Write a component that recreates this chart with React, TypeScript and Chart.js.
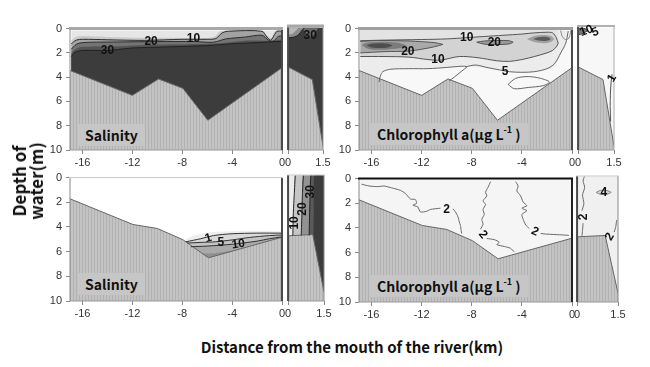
import React, { useEffect, useRef } from 'react';
import { Chart, registerables } from 'chart.js';
Chart.register(...registerables);

// ---------- axes ----------
const X_MAIN = [-17, 0];
const X_NARROW = [0, 1.5];
const X_TICKS_MAIN = [-16, -12, -8, -4, 0];
const X_TICKS_NARROW = [0, 1.5];
const DEPTH_RANGE = [0, 10];
const Y_TICKS = [0, 2, 4, 6, 8, 10];
const SURF_TOP = 0.15;
const SURF_BOT = 0.03;

// ---------- bathymetry [distance km, depth m] ----------
const TOP_BATHY = [[-17, 3.45], [-12, 5.5], [-9.9, 4.15], [-7.95, 4.92], [-5.95, 7.55], [0, 3.22]];
const TOP_BATHY_N = [[0, 3.3], [1.04, 4.32], [1.5, 9.7]];
const BOT_BATHY = [[-17, 1.72], [-11.95, 3.8], [-10, 4.12], [-7.95, 5.03], [-5.9, 6.5], [0, 4.83]];
const BOT_BATHY_N = [[0, 4.83], [1.03, 4.72], [1.5, 9.3]];

// ---------- salinity, upper section (isolines: depth by distance) ----------
const SAL_TOP_5 = [[-16.9, 0.95], [-16.4, 0.65], [-15, 0.65], [-12, 0.75], [-9, 0.75], [-6.2, 0.78], [-5.4, 0.65], [-4.9, 0.2], [-1.7, 0.2], [-1.25, 0.55], [-0.85, 0.75], [-0.55, 0.2], [0, 0.18]];
const SAL_TOP_10 = [[-16.9, 1.25], [-16.5, 0.95], [-16, 0.88], [-14, 0.92], [-11, 0.97], [-8, 0.88], [-6, 0.88], [-5.3, 0.82], [-4.8, 0.35], [-4.3, 0.22], [-1.6, 0.22], [-1.2, 0.7], [-0.9, 0.95], [-0.6, 0.5], [-0.4, 0.22], [0, 0.22]];
const SAL_TOP_20 = [[-16.9, 1.7], [-16.5, 1.3], [-16, 1.15], [-13, 1.1], [-10, 1.07], [-7, 1.07], [-5.5, 1.12], [-4.5, 0.85], [-3, 0.7], [-1.6, 0.55], [-1.1, 0.95], [-0.7, 1.05], [-0.3, 0.65], [0, 0.6]];
const SAL_TOP_25 = [[-16.9, 2.0], [-16.5, 1.65], [-16, 1.5], [-13, 1.45], [-10, 1.32], [-7, 1.27], [-5, 1.2], [-3, 1.0], [-1, 1.0], [0, 0.9]];
const SAL_TOP_30 = [[-16.9, 2.3], [-16.6, 1.95], [-16, 1.8], [-14, 1.8], [-12, 1.6], [-9, 1.5], [-6, 1.4], [-4, 1.25], [-2, 1.15], [0, 1.05]];
const SAL_TOP_N_OUT = [[0, 0.95], [0.25, 0.9], [0.45, 0.7], [0.6, 0.35], [0.7, 0.15]];
const SAL_TOP_N_IN = [[0, 0.7], [0.2, 0.6], [0.35, 0.35], [0.45, 0.15]];
const SAL_TOP_N_MID = [[0.6, 0.15], [0.75, 0.55], [0.95, 0.9], [1.15, 0.6], [1.3, 0.15]];

// ---------- chlorophyll, upper section ----------
const CHL_TOP_5_FILL = [[-16.9, 3.45], [-15.6, 4.1], [-15.2, 3.55], [-14, 3.3], [-12, 3.3], [-10, 3.2], [-8.5, 3.1], [-7, 3.25], [-5.3, 3.5], [-3.2, 3.6], [-1.6, 3.25], [-0.9, 2.2], [-0.5, 1.2], [-0.3, 0.15]];
const CHL_TOP_10_UP = [[-16.9, 1.0], [-15, 0.95], [-12, 0.9], [-10, 0.85], [-8.5, 0.75], [-7, 0.65], [-5.5, 0.55], [-4, 0.45], [-3, 0.35], [-2, 0.3], [-1.55, 0.35], [-1.25, 0.75], [-1.1, 1.2]];
const CHL_TOP_10_LOW = [[-16.9, 2.3], [-15, 2.3], [-13, 2.35], [-11.5, 2.55], [-10.5, 2.6], [-9, 2.3], [-7.5, 2.4], [-6, 2.65], [-5, 2.7], [-4, 2.55], [-3, 2.3], [-2, 2.0], [-1.55, 1.8], [-1.25, 1.5], [-1.1, 1.2]];
const CHL_TOP_20A_TOP = [[-16.9, 1.05], [-16, 1.0], [-15, 0.98], [-14, 1.0], [-13, 1.02], [-12, 1.08], [-11, 1.15], [-10.3, 1.3]];
const CHL_TOP_20A_BOT = [[-16.9, 2.0], [-16, 1.95], [-15, 1.9], [-14, 1.88], [-13, 1.85], [-12, 1.7], [-11, 1.5], [-10.3, 1.3]];
const CHL_TOP_MID_TOP = [[-16.8, 1.35], [-16.3, 1.15], [-15.5, 1.1], [-14.5, 1.1], [-13.7, 1.2], [-13.2, 1.4]];
const CHL_TOP_MID_BOT = [[-16.8, 1.35], [-16.3, 1.65], [-15.5, 1.75], [-14.5, 1.7], [-13.7, 1.6], [-13.2, 1.4]];
const CHL_TOP_CORE_TOP = [[-16.4, 1.4], [-16, 1.25], [-15.3, 1.2], [-14.7, 1.25], [-14.3, 1.4]];
const CHL_TOP_CORE_BOT = [[-16.4, 1.4], [-16, 1.55], [-15.3, 1.6], [-14.7, 1.55], [-14.3, 1.4]];
const CHL_TOP_20B_TOP = [[-7.6, 1.12], [-7, 1.02], [-6, 0.98], [-5, 1.0], [-4.7, 1.12]];
const CHL_TOP_20B_BOT = [[-7.6, 1.12], [-7, 1.28], [-6, 1.32], [-5, 1.26], [-4.7, 1.12]];
const CHL_TOP_RH_TOP = [[-3.6, 0.85], [-3, 0.6], [-2.3, 0.52], [-1.7, 0.6], [-1.4, 0.85]];
const CHL_TOP_RH_BOT = [[-3.6, 0.85], [-3, 1.1], [-2.3, 1.2], [-1.7, 1.1], [-1.4, 0.85]];
const CHL_TOP_RC_TOP = [[-3.1, 0.85], [-2.7, 0.72], [-2.3, 0.68], [-1.9, 0.72], [-1.7, 0.85]];
const CHL_TOP_RC_BOT = [[-3.1, 0.85], [-2.7, 0.98], [-2.3, 1.02], [-1.9, 0.98], [-1.7, 0.85]];
const CHL_TOP_5A = [[-15.4, 4.4], [-15.3, 3.9], [-15.1, 3.55], [-14.5, 3.35], [-13, 3.3], [-11.5, 3.3], [-10, 3.2], [-8.8, 3.1], [-8.4, 3.15], [-8.8, 3.5], [-9.4, 4.0], [-9.8, 4.3]];
const CHL_TOP_5B = [[-8.5, 3.15], [-7.7, 3.0], [-6.8, 3.2], [-5.8, 3.4], [-5.0, 3.55], [-4, 3.6], [-3, 3.55], [-2, 3.3], [-1.4, 2.9], [-0.9, 2.0], [-0.5, 1.2], [-0.3, 0.2]];
const CHL_TOP_5C = [[-5.1, 4.6], [-4.5, 4.1], [-3.5, 3.95], [-2.5, 4.1], [-1.8, 4.4], [-2.3, 4.7], [-3.5, 4.85], [-4.6, 4.95], [-5.1, 4.6]];
const CHL_TOP_CORNER = [[-0.9, 0.15], [-0.8, 0.6], [-0.55, 0.9], [-0.3, 0.85], [-0.15, 0.5], [-0.1, 0.15]];
const CHL_TOP_N_SPOT_TOP = [[0.03, 0.2], [0.15, 0.18], [0.3, 0.22], [0.42, 0.35]];
const CHL_TOP_N_SPOT_BOT = [[0.03, 0.7], [0.15, 0.65], [0.3, 0.5], [0.42, 0.35]];
const CHL_TOP_N_1 = [[1.42, 3.9], [1.38, 4.5], [1.35, 5.5], [1.34, 6.5], [1.36, 7.7]];

// ---------- salinity, lower section ----------
const SAL_BOT_A = [[-7.9, 5.1], [-7, 4.7], [-6, 4.45], [-4, 4.35], [-2, 4.3], [0, 4.35]];
const SAL_BOT_1 = [[-7.7, 5.2], [-6.5, 4.95], [-5.5, 4.7], [-4, 4.55], [-2, 4.5], [0, 4.5]];
const SAL_BOT_5 = [[-7.6, 5.3], [-6.5, 5.25], [-5.3, 5.2], [-4, 5.05], [-2.6, 4.85], [-1, 4.7], [0, 4.65]];
const SAL_BOT_10 = [[-7.3, 5.6], [-6, 5.55], [-4, 5.4], [-2, 5.15], [-1, 4.95], [0, 4.8]];
const SAL_BOT_15 = [[-7.2, 6.0], [-6, 6.15], [-4, 5.9], [-2, 5.5], [0, 5.0]];
const SAL_BOT_N_10 = [[0.2, 4.8], [0.22, 3.0], [0.26, 1.5], [0.3, 0.03]];
const SAL_BOT_N_20 = [[0.55, 4.8], [0.58, 3.0], [0.6, 1.5], [0.64, 0.03]];
const SAL_BOT_N_30 = [[0.88, 4.8], [0.9, 3.0], [0.92, 1.5], [0.95, 0.03]];
const SAL_BOT_N_35 = [[1.05, 4.8], [1.07, 3.0], [1.1, 0.03]];

// ---------- chlorophyll, lower section ----------
const CHL_BOT_A = [[-16.8, 0.45], [-16.2, 0.6], [-15.5, 0.65], [-15, 0.6], [-14.4, 0.75], [-13.7, 0.95], [-13.3, 1.2], [-12.9, 1.65], [-12.5, 1.7], [-12.4, 2.0], [-12.7, 2.15], [-12.3, 2.3], [-12.1, 2.7], [-11.6, 2.65], [-11.3, 2.5], [-10.5, 2.4]];
const CHL_BOT_A2 = [[-9.5, 2.45], [-9.3, 2.7], [-9.1, 3.1], [-9.0, 3.5], [-8.9, 3.8], [-8.85, 4.2], [-8.8, 4.45]];
const CHL_BOT_B1 = [[-6.5, 0.25], [-6.7, 0.7], [-6.9, 1.1], [-6.8, 1.4], [-7.1, 1.8], [-6.9, 2.1], [-7.1, 2.5], [-7.0, 2.9], [-7.2, 3.3], [-7.1, 3.7], [-7.3, 4.1]];
const CHL_BOT_B2 = [[-6.8, 4.85], [-6.2, 4.95], [-5.8, 5.15], [-6.0, 5.35], [-5.4, 5.5], [-4.9, 5.65], [-4.6, 5.95]];
const CHL_BOT_C1 = [[-4.5, 0.25], [-4.3, 0.6], [-4.4, 1.0], [-4.1, 1.4], [-3.9, 1.9], [-3.6, 2.2], [-4.0, 2.4], [-3.6, 2.6], [-4.0, 2.9], [-3.9, 3.3], [-3.7, 3.75], [-3.4, 4.05]];
const CHL_BOT_C2 = [[-2.5, 4.45], [-2.0, 4.5], [-1, 4.55], [-0.25, 4.6]];
const CHL_BOT_N_L1 = [[0.27, 0.03], [0.22, 0.4], [0.28, 0.9], [0.2, 1.5], [0.25, 2.2], [0.18, 2.75]];
const CHL_BOT_N_L2 = [[0.22, 3.75], [0.2, 4.3], [0.18, 4.75]];
const CHL_BOT_N_R1 = [[1.45, 3.5], [1.42, 4.0], [1.36, 4.45]];
const CHL_BOT_N_4_TOP = [[0.7, 1.3], [0.85, 1.15], [1.1, 1.15], [1.25, 1.3]];
const CHL_BOT_N_4_BOT = [[0.7, 1.3], [0.85, 1.45], [1.1, 1.45], [1.25, 1.3]];

// ---------- isoline labels [distance, depth, text, rotation] ----------
const LAB_SAL_TOP = [[-7.1, 0.8, '10', 0], [-10.5, 1.05, '20', 0], [-14, 1.8, '30', 0]];
const LAB_SAL_TOP_N = [[0.95, 0.8, '30', 0]];
const LAB_CHL_TOP = [[-8.4, 0.72, '10', 0], [-13.1, 1.88, '20', 0], [-10.7, 2.6, '10', 0], [-6.2, 1.2, '20', 0], [-5.35, 3.55, '5', 0]];
const LAB_CHL_TOP_N = [[0.35, 0.4, '10', -20], [0.72, 0.5, '5', -20], [1.42, 4.2, '1', -60]];
const LAB_SAL_BOT = [[-5.9, 4.9, '1', -15], [-4.9, 5.24, '5', 0], [-3.5, 5.4, '10', -8]];
const LAB_SAL_BOT_N = [[0.28, 3.8, '10', -90], [0.62, 2.7, '20', -90], [0.93, 1.33, '30', -90]];
const LAB_CHL_BOT = [[-10.0, 2.5, '2', 0], [-7.1, 4.55, '2', 50], [-2.95, 4.3, '2', 25]];
const LAB_CHL_BOT_N = [[0.25, 3.25, '2', -90], [0.98, 1.3, '4', 0], [1.2, 4.82, '2', -60]];

// ---------- helpers ----------
let HATCH: any = null;
function hatch() {
  if (HATCH) return HATCH;
  const c = document.createElement('canvas');
  c.width = 3; c.height = 1;
  const g = c.getContext('2d')!;
  g.fillStyle = '#c3c3c3'; g.fillRect(0, 0, 3, 1);
  g.fillStyle = '#b2b2b2'; g.fillRect(0, 0, 1, 1);
  HATCH = g.createPattern(c, 'repeat');
  return HATCH;
}
const surf = (xr: number[], d: number) => [[xr[0], d], [xr[1], d]];
const tail = (pts: number[][], xEnd: number, d: number) => [...pts, [xEnd, d]];

function ds(pts: number[][], o: any) {
  return {
    data: pts.map((p) => ({ x: p[0], y: p[1] })),
    pointRadius: 0, pointHoverRadius: 0, pointHitRadius: 0,
    borderWidth: 0, borderColor: 'rgba(0,0,0,0)', fill: false, tension: 0.3,
    ...o,
  };
}

function buildDatasets(layers: any[]) {
  const out: any[] = [];
  for (let i = layers.length - 1; i >= 0; i--) {
    const l = layers[i];
    const t = l.tension ?? 0.3;
    if (l.kind === 'down') out.push(ds(l.pts, { fill: { value: DEPTH_RANGE[1] }, backgroundColor: l.color, tension: t }));
    else if (l.kind === 'up') out.push(ds(l.pts, { fill: { value: l.surf }, backgroundColor: l.color, tension: t }));
    else if (l.kind === 'band') {
      const bc = l.line || 'rgba(0,0,0,0)';
      const bw = l.line ? 1 : 0;
      out.push(ds(l.top, { borderColor: bc, borderWidth: bw, tension: t }));
      out.push(ds(l.bottom, { fill: '-1', backgroundColor: l.color, borderColor: bc, borderWidth: bw, tension: t }));
    } else if (l.kind === 'line') out.push(ds(l.pts, { borderColor: l.color, borderWidth: l.w ?? 1, tension: t }));
    else if (l.kind === 'bathy') out.push(ds(l.pts, { fill: { value: DEPTH_RANGE[1] }, backgroundColor: hatch(), borderColor: '#666', borderWidth: 1, tension: 0 }));
  }
  return out;
}

const TICK_FONT = { family: '"Liberation Sans", Arial, sans-serif', size: 11 };

function Panel({ plot, narrow, xr, xticks, layers, labels, frame }: any) {
  const ref = useRef<HTMLCanvasElement>(null);
  const L = narrow ? 4 : 30, T = 8, R = narrow ? 10 : 6, B = 22;
  const [pl, pt, pw, ph] = plot;
  const W = pw + L + R, H = ph + T + B;
  useEffect(() => {
    const framePlugin = {
      id: 'frame',
      afterDatasetsDraw(chart: any) {
        const c = chart.ctx, a = chart.chartArea;
        c.save();
        const seg = (s: any, x1: number, y1: number, x2: number, y2: number) => {
          if (!s) return;
          c.strokeStyle = s[0]; c.lineWidth = s[1];
          c.beginPath(); c.moveTo(x1, y1); c.lineTo(x2, y2); c.stroke();
        };
        seg(frame.bottom, a.left, a.bottom, a.right, a.bottom);
        seg(frame.left, a.left, a.top, a.left, a.bottom);
        seg(frame.right, a.right, a.top, a.right, a.bottom);
        seg(frame.top, a.left - 1, a.top, a.right + 1, a.top);
        c.restore();
      },
    };
    const labelPlugin = {
      id: 'isoLabels',
      afterDatasetsDraw(chart: any) {
        const c = chart.ctx, xs = chart.scales.x, ys = chart.scales.y;
        for (const lb of labels) {
          const [x, y, t, rot] = lb;
          c.save();
          c.translate(xs.getPixelForValue(x), ys.getPixelForValue(y));
          c.rotate((rot * Math.PI) / 180);
          c.font = 'bold 12px "Liberation Sans", Arial, sans-serif';
          c.textAlign = 'center'; c.textBaseline = 'middle';
          c.fillStyle = '#111';
          c.fillText(t, 0, 0);
          c.restore();
        }
      },
    };
    const chart = new Chart(ref.current!, {
      type: 'line',
      data: { datasets: buildDatasets(layers) },
      options: {
        responsive: false, animation: false, events: [],
        layout: { padding: { left: 0, top: T, right: R, bottom: 0 } },
        plugins: { legend: { display: false }, tooltip: { enabled: false } },
        scales: {
          x: {
            type: 'linear', min: xr[0], max: xr[1],
            afterBuildTicks: (s: any) => { s.ticks = xticks.map((v: number) => ({ value: v })); },
            afterFit: (s: any) => { s.height = B; },
            ticks: { autoSkip: false, maxRotation: 0, padding: 2, color: '#333', font: TICK_FONT, callback: (v: any) => String(v) },
            grid: { display: true, drawOnChartArea: false, drawTicks: true, tickLength: 4, color: '#8a8a8a' },
            border: { display: false },
          },
          y: {
            type: 'linear', reverse: true, min: DEPTH_RANGE[0], max: DEPTH_RANGE[1],
            afterBuildTicks: (s: any) => { s.ticks = Y_TICKS.map((v) => ({ value: v })); },
            afterFit: (s: any) => { s.width = L; },
            ticks: { display: !narrow, padding: 4, color: '#333', font: TICK_FONT, callback: (v: any) => String(v) },
            grid: { display: !narrow, drawOnChartArea: false, drawTicks: true, tickLength: 4, color: '#8a8a8a' },
            border: { display: false },
          },
        },
      },
      plugins: [framePlugin, labelPlugin],
    } as any);
    return () => chart.destroy();
  }, []);
  return (
    <canvas ref={ref} width={W} height={H}
      style={{ position: 'absolute', left: pl - L, top: pt - T, width: W, height: H }} />
  );
}

// ---------- panels ----------
const PANELS = [
  { // salinity upper, main
    plot: [70, 26, 212, 124], narrow: false, xr: X_MAIN, xticks: X_TICKS_MAIN, labels: LAB_SAL_TOP,
    frame: { top: ['#a8a8a8', 3], left: ['#8a8a8a', 1], bottom: ['#9a9a9a', 1], right: ['#4a4a4a', 2] },
    layers: [
      { kind: 'down', pts: surf([-16.9, 0], SURF_TOP), color: '#e6e6e6' },
      { kind: 'down', pts: SAL_TOP_5, color: '#cacaca' },
      { kind: 'down', pts: SAL_TOP_10, color: '#a3a3a3' },
      { kind: 'down', pts: SAL_TOP_20, color: '#747474' },
      { kind: 'down', pts: SAL_TOP_25, color: '#535353' },
      { kind: 'down', pts: SAL_TOP_30, color: '#3c3c3c' },
      { kind: 'bathy', pts: TOP_BATHY },
      { kind: 'line', pts: SAL_TOP_10, color: '#2e2e2e' },
      { kind: 'line', pts: SAL_TOP_20, color: '#2e2e2e' },
      { kind: 'line', pts: SAL_TOP_30, color: '#222' },
    ],
  },
  { // salinity upper, narrow
    plot: [287, 26, 36, 124], narrow: true, xr: X_NARROW, xticks: X_TICKS_NARROW, labels: LAB_SAL_TOP_N,
    frame: { top: ['#a8a8a8', 3], left: ['#4a4a4a', 2], bottom: ['#9a9a9a', 1], right: ['#9a9a9a', 1] },
    layers: [
      { kind: 'down', pts: surf(X_NARROW, SURF_TOP), color: '#3c3c3c' },
      { kind: 'up', pts: SAL_TOP_N_MID, color: '#6a6a6a', surf: SURF_TOP },
      { kind: 'up', pts: SAL_TOP_N_OUT, color: '#8c8c8c', surf: SURF_TOP },
      { kind: 'up', pts: SAL_TOP_N_IN, color: '#b8b8b8', surf: SURF_TOP },
      { kind: 'bathy', pts: TOP_BATHY_N },
      { kind: 'line', pts: SAL_TOP_N_OUT, color: '#222' },
    ],
  },
  { // chlorophyll upper, main
    plot: [359, 26, 213, 124], narrow: false, xr: X_MAIN, xticks: X_TICKS_MAIN, labels: LAB_CHL_TOP,
    frame: { top: ['#a0a0a0', 3], left: ['#8a8a8a', 1], bottom: ['#9a9a9a', 1], right: ['#4a4a4a', 2] },
    layers: [
      { kind: 'down', pts: surf([-16.9, 0], SURF_TOP), color: '#f8f8f8' },
      { kind: 'up', pts: CHL_TOP_5_FILL, color: '#ececec', surf: SURF_TOP },
      { kind: 'up', pts: CHL_TOP_10_LOW, color: '#d3d3d3', surf: SURF_TOP },
      { kind: 'up', pts: CHL_TOP_10_UP, color: '#e3e3e3', surf: SURF_TOP },
      { kind: 'band', top: CHL_TOP_20A_TOP, bottom: CHL_TOP_20A_BOT, color: '#a9a9a9', line: '#555' },
      { kind: 'band', top: CHL_TOP_MID_TOP, bottom: CHL_TOP_MID_BOT, color: '#7c7c7c' },
      { kind: 'band', top: CHL_TOP_CORE_TOP, bottom: CHL_TOP_CORE_BOT, color: '#4d4d4d' },
      { kind: 'band', top: CHL_TOP_20B_TOP, bottom: CHL_TOP_20B_BOT, color: '#9c9c9c', line: '#555' },
      { kind: 'band', top: CHL_TOP_RH_TOP, bottom: CHL_TOP_RH_BOT, color: '#a0a0a0' },
      { kind: 'band', top: CHL_TOP_RC_TOP, bottom: CHL_TOP_RC_BOT, color: '#5c5c5c' },
      { kind: 'bathy', pts: TOP_BATHY },
      { kind: 'line', pts: CHL_TOP_10_UP, color: '#555' },
      { kind: 'line', pts: CHL_TOP_10_LOW, color: '#555' },
      { kind: 'line', pts: CHL_TOP_5A, color: '#666' },
      { kind: 'line', pts: CHL_TOP_5B, color: '#666' },
      { kind: 'line', pts: CHL_TOP_5C, color: '#666' },
      { kind: 'line', pts: CHL_TOP_CORNER, color: '#888' },
    ],
  },
  { // chlorophyll upper, narrow
    plot: [577, 26, 37, 124], narrow: true, xr: X_NARROW, xticks: X_TICKS_NARROW, labels: LAB_CHL_TOP_N,
    frame: { top: ['#b0b0b0', 2], left: ['#4a4a4a', 2], bottom: ['#9a9a9a', 1], right: ['#aaaaaa', 1] },
    layers: [
      { kind: 'down', pts: surf(X_NARROW, SURF_TOP), color: '#f7f7f7' },
      { kind: 'band', top: CHL_TOP_N_SPOT_TOP, bottom: CHL_TOP_N_SPOT_BOT, color: '#7a7a7a', line: '#444' },
      { kind: 'bathy', pts: TOP_BATHY_N },
      { kind: 'line', pts: CHL_TOP_N_1, color: '#555' },
    ],
  },
  { // salinity lower, main
    plot: [70, 175, 212, 126], narrow: false, xr: X_MAIN, xticks: X_TICKS_MAIN, labels: LAB_SAL_BOT,
    frame: { top: ['#c8c8c8', 1], left: ['#8a8a8a', 1], bottom: ['#9a9a9a', 1], right: ['#4a4a4a', 2] },
    layers: [
      { kind: 'down', pts: SAL_BOT_A, color: '#eeeeee' },
      { kind: 'down', pts: SAL_BOT_1, color: '#dadada' },
      { kind: 'down', pts: SAL_BOT_5, color: '#c3c3c3' },
      { kind: 'down', pts: SAL_BOT_10, color: '#aaaaaa' },
      { kind: 'down', pts: SAL_BOT_15, color: '#909090' },
      { kind: 'bathy', pts: BOT_BATHY },
      { kind: 'line', pts: SAL_BOT_1, color: '#333' },
      { kind: 'line', pts: SAL_BOT_5, color: '#333' },
      { kind: 'line', pts: SAL_BOT_10, color: '#333' },
    ],
  },
  { // salinity lower, narrow
    plot: [287, 175, 37, 126], narrow: true, xr: X_NARROW, xticks: X_TICKS_NARROW, labels: LAB_SAL_BOT_N,
    frame: { top: ['#c8c8c8', 1], left: ['#4a4a4a', 2], bottom: ['#9a9a9a', 1], right: ['#8a8a8a', 1] },
    layers: [
      { kind: 'down', pts: surf(X_NARROW, SURF_BOT), color: '#ededed', tension: 0 },
      { kind: 'down', pts: tail(SAL_BOT_N_10, X_NARROW[1], SURF_BOT), color: '#c6c6c6', tension: 0.2 },
      { kind: 'down', pts: tail(SAL_BOT_N_20, X_NARROW[1], SURF_BOT), color: '#929292', tension: 0.2 },
      { kind: 'down', pts: tail(SAL_BOT_N_30, X_NARROW[1], SURF_BOT), color: '#5a5a5a', tension: 0.2 },
      { kind: 'down', pts: tail(SAL_BOT_N_35, X_NARROW[1], SURF_BOT), color: '#3c3c3c', tension: 0.2 },
      { kind: 'bathy', pts: BOT_BATHY_N },
      { kind: 'line', pts: SAL_BOT_N_10, color: '#222', tension: 0.2 },
      { kind: 'line', pts: SAL_BOT_N_20, color: '#222', tension: 0.2 },
      { kind: 'line', pts: SAL_BOT_N_30, color: '#222', tension: 0.2 },
    ],
  },
  { // chlorophyll lower, main
    plot: [359, 176, 213, 126], narrow: false, xr: X_MAIN, xticks: X_TICKS_MAIN, labels: LAB_CHL_BOT,
    frame: { top: ['#111', 2], left: ['#8a8a8a', 1], bottom: ['#9a9a9a', 1], right: ['#222', 2] },
    layers: [
      { kind: 'down', pts: surf(X_MAIN, SURF_BOT), color: '#f5f5f5' },
      { kind: 'bathy', pts: BOT_BATHY },
      { kind: 'line', pts: CHL_BOT_A, color: '#6a6a6a', tension: 0.2 },
      { kind: 'line', pts: CHL_BOT_A2, color: '#6a6a6a', tension: 0.2 },
      { kind: 'line', pts: CHL_BOT_B1, color: '#6a6a6a', tension: 0.2 },
      { kind: 'line', pts: CHL_BOT_B2, color: '#6a6a6a', tension: 0.2 },
      { kind: 'line', pts: CHL_BOT_C1, color: '#6a6a6a', tension: 0.2 },
      { kind: 'line', pts: CHL_BOT_C2, color: '#6a6a6a', tension: 0.2 },
    ],
  },
  { // chlorophyll lower, narrow
    plot: [576, 176, 42, 126], narrow: true, xr: X_NARROW, xticks: X_TICKS_NARROW, labels: LAB_CHL_BOT_N,
    frame: { top: ['#c8c8c8', 1], left: ['#4a4a4a', 2], bottom: ['#9a9a9a', 1], right: ['#8a8a8a', 1] },
    layers: [
      { kind: 'down', pts: surf(X_NARROW, SURF_BOT), color: '#f0f0f0' },
      { kind: 'band', top: CHL_BOT_N_4_TOP, bottom: CHL_BOT_N_4_BOT, color: '#d4d4d4', line: '#888' },
      { kind: 'bathy', pts: BOT_BATHY_N },
      { kind: 'line', pts: CHL_BOT_N_L1, color: '#6a6a6a', tension: 0.2 },
      { kind: 'line', pts: CHL_BOT_N_L2, color: '#6a6a6a', tension: 0.2 },
      { kind: 'line', pts: CHL_BOT_N_R1, color: '#6a6a6a', tension: 0.2 },
    ],
  },
];

const JP = '"Noto Sans CJK JP", "Noto Sans", sans-serif';
const tagStyle = (left: number, top: number): React.CSSProperties => ({
  position: 'absolute', left, top, background: '#c6c6c6', padding: '0 7px',
  font: `bold 14px ${JP}`, lineHeight: '22px', color: '#111', whiteSpace: 'nowrap',
});

function Chl({ left, top }: { left: number; top: number }) {
  return (
    <div style={tagStyle(left, top)}>
      Chlorophyll a(μg L<sup style={{ fontSize: 9, verticalAlign: 'top', lineHeight: '14px' }}>-1</sup> )
    </div>
  );
}

export default function App() {
  return (
    <div style={{ position: 'fixed', left: 0, top: 0, width: 650, height: 367, background: '#fff', overflow: 'hidden' }}>
      {PANELS.map((p, i) => <Panel key={i} {...p} />)}
      <div style={tagStyle(78, 124)}>Salinity</div>
      <div style={tagStyle(78, 273)}>Salinity</div>
      <Chl left={370} top={123} />
      <Chl left={370} top={275} />
      <div style={{
        position: 'absolute', left: 27, top: 181, transform: 'translate(-50%, -50%) rotate(-90deg)',
        font: `bold 17px ${JP}`, lineHeight: '17px', textAlign: 'center', whiteSpace: 'nowrap', color: '#111',
      }}>Depth of<br />water(m)</div>
      <div style={{
        position: 'absolute', left: 102, top: 337, width: 500, textAlign: 'center',
        font: `bold 15px ${JP}`, lineHeight: '20px', color: '#111',
      }}>Distance from the mouth of the river(km)</div>
    </div>
  );
}
